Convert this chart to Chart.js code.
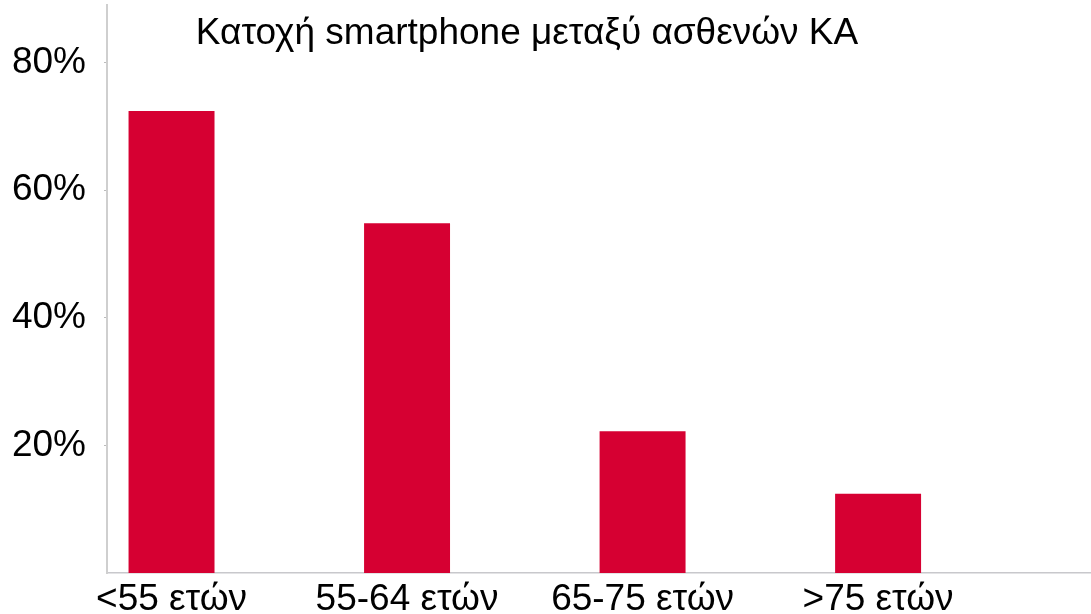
<!DOCTYPE html>
<html>
<head>
<meta charset="utf-8">
<script src="https://cdn.jsdelivr.net/npm/chart.js@4"></script>
<style>
  html, body { margin: 0; padding: 0; background: #fff; }
  #wrap { width: 1091px; height: 614px; position: relative; }
</style>
</head>
<body>
<div id="wrap"><canvas id="bar-chart-canvas"></canvas></div>
<script>
const title = 'Κατοχή smartphone μεταξύ ασθενών ΚΑ';
const categories = ['<55 ετών', '55-64 ετών', '65-75 ετών', '>75 ετών'];
const ownership = [72.4, 54.8, 22.2, 12.4];
const yTicks = [20, 40, 60, 80];

const FONT = '"Liberation Sans", Arial, sans-serif';

// title sits inside the plot area, so draw it by hand
const titlePlugin = {
  id: 'insideTitle',
  afterDraw(chart) {
    const c = chart.ctx;
    c.save();
    c.font = '37px ' + FONT;
    c.fillStyle = '#000';
    c.textAlign = 'center';
    c.textBaseline = 'alphabetic';
    c.fillText(title, 527, 44);
    c.restore();
  }
};

const ctx = document.getElementById('bar-chart-canvas').getContext('2d');
const chart = new Chart(ctx, {
  type: 'bar',
  data: {
    datasets: [{
      label: title,
      data: ownership.map((v, i) => ({ x: i, y: v })),
      backgroundColor: '#d60032',
      borderWidth: 0,
      barPercentage: 1,
      categoryPercentage: 0.365
    }]
  },
  options: {
    responsive: true,
    maintainAspectRatio: false,
    animation: false,
    layout: { padding: { top: 5, right: 0, left: 0, bottom: 0 } },
    plugins: {
      legend: { display: false },
      tooltip: { enabled: false }
    },
    scales: {
      x: {
        type: 'linear',
        offset: false,
        min: -0.274,
        max: 3.904,
        afterBuildTicks: s => { s.ticks = categories.map((c, i) => ({ value: i })); },
        afterFit: s => { s.height = 41; s.paddingLeft = 0; s.paddingRight = 0; },
        ticks: {
          callback: v => categories[v],
          color: '#000',
          font: { family: FONT, size: 37 },
          padding: -3,
          maxRotation: 0,
          autoSkip: false
        },
        grid: { display: false },
        border: { display: true, color: '#c8c8cc', width: 1.5 }
      },
      y: {
        min: 0,
        max: 89,
        afterBuildTicks: s => { s.ticks = yTicks.map(v => ({ value: v })); },
        afterFit: s => { s.width = 107; s.paddingTop = 0; s.paddingBottom = 0; },
        ticks: {
          callback: v => v + '%',
          color: '#000',
          font: { family: FONT, size: 37 },
          padding: 18
        },
        grid: { drawOnChartArea: false, drawTicks: true, tickLength: 3, color: '#bbbbbb' },
        border: { display: true, color: '#cfcfcf', width: 2 }
      }
    }
  },
  plugins: [titlePlugin]
});
</script>
</body>
</html>
